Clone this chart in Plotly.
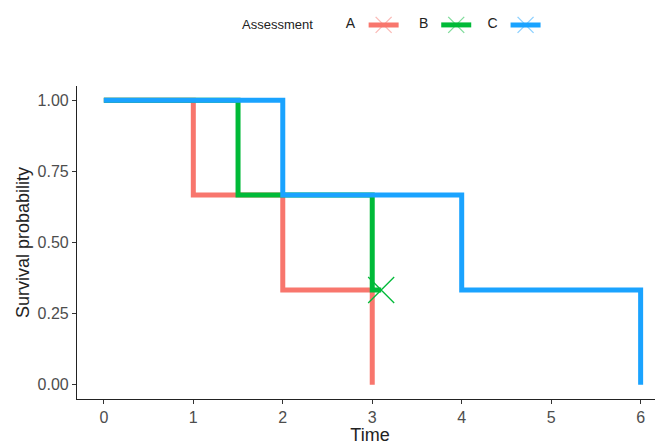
import plotly.graph_objects as go

groups = ["A", "B", "C"]
colors = {"A": "#F8766D", "B": "#00BA38", "C": "#1AA3FF"}
times = {
    "A": [0, 1, 2, 3],
    "B": [0, 1.5, 3, 3.1],
    "C": [0, 2, 4, 6],
}
surv = {
    "A": [1.0, 0.6667, 0.3333, 0.0],
    "B": [1.0, 0.6667, 0.3333, 0.3333],
    "C": [1.0, 0.6667, 0.3333, 0.0],
}
censor_time = {"B": [3.1]}
censor_surv = {"B": [0.3333]}

x_ticks = [0, 1, 2, 3, 4, 5, 6]
y_ticks = [0.0, 0.25, 0.5, 0.75, 1.0]
y_tick_labels = ["0.00", "0.25", "0.50", "0.75", "1.00"]

fig = go.Figure()
for g in groups:
    fig.add_trace(go.Scatter(
        x=times[g], y=surv[g], mode="lines", line_shape="hv",
        line=dict(color=colors[g], width=5), showlegend=False, name=g))
for g in groups:
    if g in censor_time:
        fig.add_trace(go.Scatter(
            x=censor_time[g], y=censor_surv[g], mode="markers",
            marker=dict(symbol="x-thin", size=26, color=colors[g],
                        line=dict(color=colors[g], width=1.3)),
            showlegend=False))

legend_ids = {"A": "legend", "B": "legend2", "C": "legend3"}
legend_x = {"A": 0.455, "B": 0.58, "C": 0.697}
for g in groups:
    fig.add_trace(go.Scatter(
        x=[None], y=[None], mode="lines+markers", name=" ",
        legend=legend_ids[g],
        line=dict(color=colors[g], width=5),
        marker=dict(symbol="x-thin", size=28, color=colors[g], opacity=0.5,
                    line=dict(color=colors[g], width=1.3))))

leg_common = dict(orientation="h", yanchor="middle", y=1.195, xanchor="left",
                  font=dict(size=13, color="#222"), itemwidth=30,
                  bgcolor="rgba(0,0,0,0)")
layout_legends = {}
for g in groups:
    d = dict(leg_common)
    d["x"] = legend_x[g]
    d["title"] = dict(text=g, side="left", font=dict(size=14, color="#222"))
    layout_legends[legend_ids[g]] = d

fig.update_layout(
    width=655, height=437,
    margin=dict(l=69, r=0, t=78, b=46, autoexpand=False),
    plot_bgcolor="white", paper_bgcolor="white",
    font=dict(family="Liberation Sans, Arial, sans-serif", color="#222"),
    annotations=[dict(text="Assessment", xref="paper", yref="paper",
                      x=0.278, y=1.195, xanchor="left", yanchor="middle",
                      showarrow=False, font=dict(size=13, color="#222"))],
    xaxis=dict(range=[-0.3, 6.25], tickvals=x_ticks, showline=True,
               linecolor="#222", linewidth=1.2, ticks="outside", ticklen=4,
               tickcolor="#333", tickfont=dict(size=16, color="#4d4d4d"),
               showgrid=False, zeroline=False,
               title=dict(text="Time", font=dict(size=18, color="#222"), standoff=3)),
    yaxis=dict(range=[-0.05, 1.05], tickvals=y_ticks, ticktext=y_tick_labels,
               showline=True, linecolor="#222", linewidth=1.2, ticks="outside",
               ticklen=4, tickcolor="#333", tickfont=dict(size=16, color="#4d4d4d"),
               showgrid=False, zeroline=False,
               title=dict(text="Survival probability", font=dict(size=18, color="#222"),
                          standoff=3)),
    **layout_legends,
)
fig.write_html("out.html")
